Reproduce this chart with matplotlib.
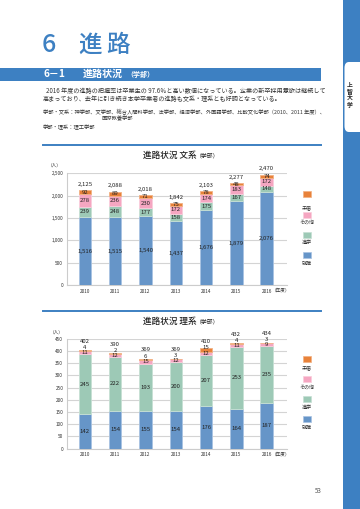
import matplotlib
matplotlib.use("Agg")
import matplotlib.pyplot as plt
from matplotlib.patches import Rectangle, FancyBboxPatch
from matplotlib.lines import Line2D

plt.rcParams['font.family'] = ['Noto Sans CJK JP', 'DejaVu Sans']

years = ["2010", "2011", "2012", "2013", "2014", "2015", "2016"]
categories = ["就職", "進学", "その他", "未届"]
colors = ["#6695c8", "#9dc9b6", "#f5a6c1", "#e8823a"]
edge_colors = ["#a8c3e2", "#c6e0d4", "#f9cddc", "#f2b183"]

bun_shushoku = [1516, 1515, 1540, 1437, 1676, 1879, 2076]
bun_shingaku = [239, 248, 177, 158, 175, 167, 148]
bun_sonota = [278, 236, 230, 172, 174, 183, 172]
bun_mitodoke = [92, 89, 71, 75, 78, 48, 74]

ri_shushoku = [142, 154, 155, 154, 176, 164, 187]
ri_shingaku = [245, 222, 193, 200, 207, 253, 235]
ri_sonota = [11, 12, 15, 12, 12, 11, 9]
ri_mitodoke = [4, 2, 6, 3, 15, 4, 3]

bun_ticks = [0, 500, 1000, 1500, 2000, 2500]
ri_ticks = [0, 50, 100, 150, 200, 250, 300, 350, 400, 450]

W, H = 360, 509
fig = plt.figure(figsize=(W / 100, H / 100), dpi=100)
fig.patch.set_facecolor("white")

def fx(x):
    return x / W

def fy(y):
    return 1 - y / H

BLUE = "#3d80c2"

# right stripe and tab
fig.patches.append(Rectangle((fx(343), 0), fx(17), 1, transform=fig.transFigure,
                             facecolor=BLUE, edgecolor="none", zorder=0))
fig.patches.append(FancyBboxPatch((fx(344.5), fy(132)), fx(20), fy(62) - fy(132),
                                  boxstyle="round,pad=0,rounding_size=0.012",
                                  transform=fig.transFigure, facecolor="white",
                                  edgecolor="none", zorder=1))
for i, ch in enumerate("上智大学"):
    fig.text(fx(349.5), fy(86 + i * 6.3), ch, fontsize=4.2, fontweight="bold",
             ha="center", va="center", color="#222222")

# page title
fig.text(fx(42), fy(45), "6", fontsize=18, color=BLUE, ha="left", va="center",
         fontweight="medium")
fig.text(fx(78), fy(45), "進", fontsize=17, color=BLUE, ha="left", va="center",
         fontweight="medium")
fig.text(fx(106), fy(45), "路", fontsize=17, color=BLUE, ha="left", va="center",
         fontweight="medium")

# section band
fig.patches.append(Rectangle((0, fy(80.5)), fx(321), fy(67.5) - fy(80.5),
                             transform=fig.transFigure, facecolor=BLUE,
                             edgecolor="none", zorder=0))
fig.text(fx(43), fy(74), "6－1", fontsize=7.2, color="white", fontweight="bold",
         ha="left", va="center")
fig.text(fx(83), fy(74), "進路状況", fontsize=7.2, color="white", fontweight="bold",
         ha="left", va="center")
fig.text(fx(126), fy(74.5), "（学部）", fontsize=5, color="white", fontweight="bold",
         ha="left", va="center")

# body text
fig.text(fx(46), fy(91.5),
         "2016 年度の進路の把握率は卒業生の 97.6％と高い数値になっている。企業の新卒採用意欲は継続して",
         fontsize=4.4, color="#333333", ha="left", va="center")
fig.text(fx(43), fy(99.5),
         "高まっており、去年に引き続き本学卒業者の進路も文系・理系とも好調となっている。",
         fontsize=4.4, color="#333333", ha="left", va="center")
fig.text(fx(43), fy(112.5),
         "学部・文系：神学部、文学部、総合人間科学部、法学部、経済学部、外国語学部、比較文化学部（2010、2011 年度）、",
         fontsize=3.8, color="#333333", ha="left", va="center")
fig.text(fx(101.5), fy(119), "国際教養学部", fontsize=3.8, color="#333333",
         ha="left", va="center")
fig.text(fx(43), fy(127.5), "学部・理系：理工学部", fontsize=3.8, color="#333333",
         ha="left", va="center")

# page number
fig.text(fx(318), fy(491), "53", fontsize=4.5, color="#555555", ha="center", va="center")


def draw_chart(top_line_y, title_main, title_y, ax_rect, series, ticks, ymax,
               fmt, unit_xy, xlabel_y, legend_sq_y, legend_lab_y, small_thresh):
    fig.lines.append(Line2D([fx(43), fx(321)], [fy(top_line_y), fy(top_line_y)],
                            transform=fig.transFigure, color=BLUE, linewidth=1.4))
    fig.text(fx(143), fy(title_y), title_main, fontsize=6.2, ha="left", va="center",
             color="#222222", fontweight="medium")
    fig.text(fx(196), fy(title_y + 0.3), "（学部）", fontsize=4.2, ha="left", va="center",
             color="#222222")
    l, b, r, t = ax_rect
    ax = fig.add_axes([fx(l), fy(b), fx(r) - fx(l), fy(t) - fy(b)])
    xs = list(range(len(years)))
    bottoms = [0] * len(years)
    n = len(series)
    shifted = [0] * len(years)
    for si, (vals, c, ec) in enumerate(zip(series, colors, edge_colors)):
        ax.bar(xs, vals, width=0.41, bottom=bottoms, color=c, edgecolor=ec,
               linewidth=0.6, zorder=3)
        for x, v, b0 in zip(xs, vals, bottoms):
            dy = 0
            if si == n - 1 and v < small_thresh:
                dy = 2.2
                shifted[x] = 4.6 if v < 10 else 3.0
            ax.annotate(fmt(v), (x, b0 + v / 2), xytext=(0, dy),
                        textcoords="offset points", ha="center", va="center",
                        fontsize=4.3, color="#222222", zorder=5)
        bottoms = [b0 + v for b0, v in zip(bottoms, vals)]
    for x, tot in zip(xs, bottoms):
        off = shifted[x] if shifted[x] else 2.3
        ax.annotate(fmt(tot), (x, tot), xytext=(0, off), textcoords="offset points",
                    ha="center", va="bottom", fontsize=4.3, color="#222222")
    ax.set_xlim(-0.6, 6.66)
    ax.set_ylim(0, ymax)
    ax.set_yticks(ticks)
    ax.set_yticklabels([fmt(v) for v in ticks])
    ax.set_xticks(xs)
    ax.set_xticklabels(years)
    ax.tick_params(axis="both", length=0, labelsize=3.4, colors="#333333", pad=2.5)
    ax.grid(axis="y", color="#d4d4d4", linewidth=0.8, zorder=0)
    for s in ["top", "right"]:
        ax.spines[s].set_visible(False)
    ax.spines["left"].set_color("#cccccc")
    ax.spines["bottom"].set_color("#cccccc")
    ax.spines["left"].set_linewidth(0.8)
    ax.spines["bottom"].set_linewidth(0.8)
    ax.set_facecolor("none")
    fig.text(fx(unit_xy[0]), fy(unit_xy[1]), "（人）", fontsize=3.3, ha="center",
             va="center", color="#333333")
    fig.text(fx(272), fy(xlabel_y), "（年度）", fontsize=3.3, ha="left",
             va="center", color="#333333")
    # legend
    for name, c, ec, sy, ly in zip(categories[::-1], colors[::-1], edge_colors[::-1],
                                   legend_sq_y, legend_lab_y):
        fig.patches.append(Rectangle((fx(302.5), fy(sy + 2.7)), fx(8), fy(sy - 2.7) - fy(sy + 2.7),
                                     transform=fig.transFigure, facecolor=c,
                                     edgecolor=ec, linewidth=0.5))
        fig.text(fx(306.5), fy(ly), name, fontsize=3.6, ha="center", va="center",
                 color="#333333")
    return ax


def fmt_thousands(v):
    return f"{v:,}"


draw_chart(145.3, "進路状況 文系", 155.7, (66.7, 285.3, 286.7, 173.2),
           [bun_shushoku, bun_shingaku, bun_sonota, bun_mitodoke], bun_ticks, 2500,
           fmt_thousands, (55, 165), 289.7,
           [194, 215, 235, 255], [208, 222.5, 242.5, 263], 0)

draw_chart(311, "進路状況 理系", 321.7, (66.7, 448.7, 286.7, 338.7),
           [ri_shushoku, ri_shingaku, ri_sonota, ri_mitodoke], ri_ticks, 450,
           fmt_thousands, (57, 332), 453.7,
           [359, 379, 399, 419], [367.7, 387, 407, 427], 20)

fig.savefig("out.png", dpi=100)
